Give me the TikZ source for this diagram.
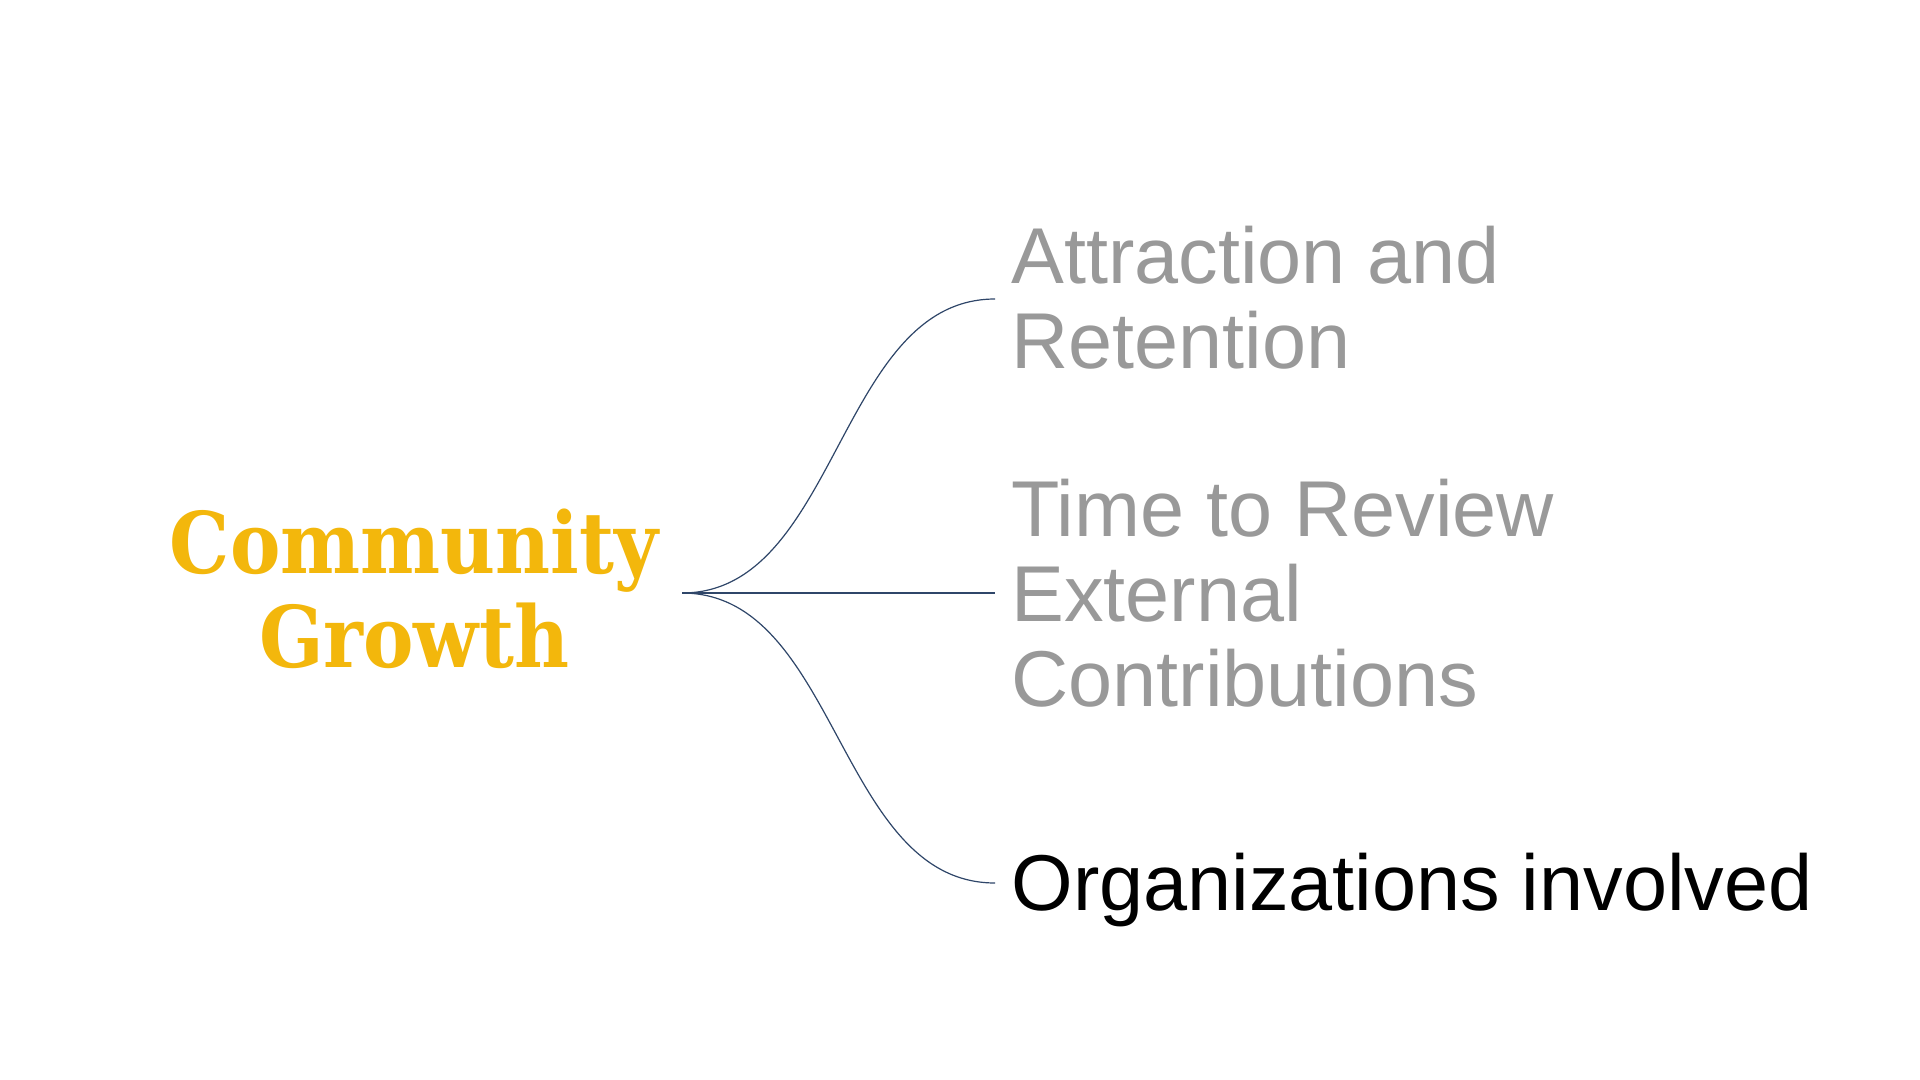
\documentclass[tikz,border=0pt]{standalone}
\usepackage{fontspec}
\setmainfont{Liberation Sans}
\newfontfamily\slabfont{DejaVu Serif}
\definecolor{gold}{RGB}{243,183,12}
\definecolor{lightgray}{RGB}{153,153,153}
\definecolor{navy}{RGB}{47,70,105}
\begin{document}
\begin{tikzpicture}[x=0.5pt,y=-0.5pt,
  branch/.style={draw=navy,line width=0.6pt},
  leaf/.style={anchor=base west,align=left,inner sep=0pt,font=\fontsize{39.6}{42.5}\selectfont},
  rootlabel/.style={align=center,inner sep=0pt,text=gold,font=\slabfont\bfseries\fontsize{42.5}{47}\selectfont,xscale=0.89,transform shape}]
\useasboundingbox[fill=white] (0,0) rectangle (1920,1080);
\node[rootlabel,anchor=base] (root) at (414,667) {Community\\Growth};
\coordinate (hub) at (682,593);
\coordinate (e1) at (995,299);
\coordinate (e2) at (995,593);
\coordinate (e3) at (995,883);
\node[leaf,text=lightgray] (attr) at (1011,368.5) {Attraction and\\Retention};
\node[leaf,text=lightgray] (time) at (1011,706.5) {Time to Review\\External\\Contributions};
\node[leaf,text=black] (orgs) at (1011,910) {Organizations involved};
\draw[branch] (hub) .. controls (838,593) and (838,299) .. (e1);
\draw[branch] (hub) -- (e2);
\draw[branch] (hub) .. controls (838,593) and (838,883) .. (e3);
\end{tikzpicture}
\end{document}
